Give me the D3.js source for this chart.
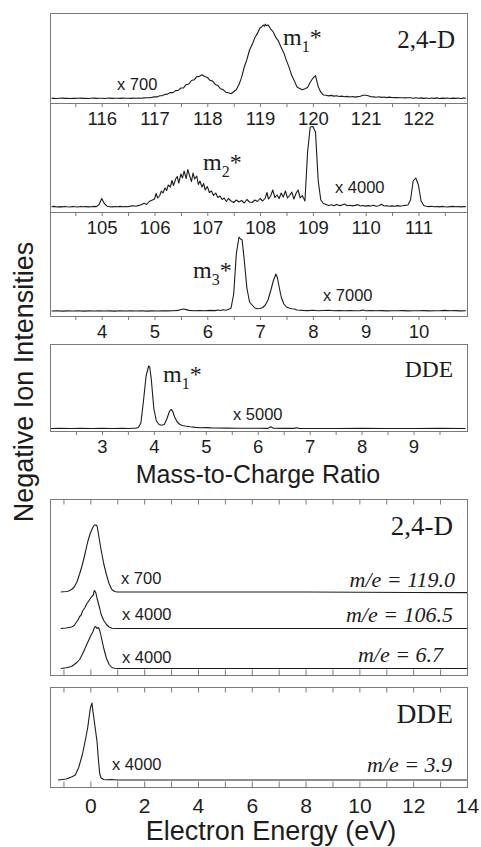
<!DOCTYPE html>
<html><head><meta charset="utf-8">
<script src="https://cdn.jsdelivr.net/npm/d3@7"></script>
<style>body{margin:0;background:#fff}svg{display:block}</style>
</head><body>
<svg id="c" width="481" height="847"></svg>
<script>
// ---------------- DATA ----------------
const massTicks1 = [116,117,118,119,120,121,122];
const massMinor1 = [115.5,116.5,117.5,118.5,119.5,120.5,121.5,122.5];
const massTicks2 = [105,106,107,108,109,110,111];
const massMinor2 = [104.5,105.5,106.5,107.5,108.5,109.5,110.5,111.5];
const massTicks3 = [4,5,6,7,8,9,10];
const massMinor3 = [3.5,4.5,5.5,6.5,7.5,8.5,9.5,10.5];
const massTicksDDE = [3,4,5,6,7,8,9];
const massMinorDDE = [2.5,3.5,4.5,5.5,6.5,7.5,8.5,9.5];
const energyTicks = [0,2,4,6,8,10,12,14];
const energyMinor = [-1,0,1,2,3,4,5,6,7,8,9,10,11,12,13,14];

// 2,4-D mass spectrum, m/e 115-123 (x 700)
const spec1 = [[115.05,4.6],[115.1,4.8],[115.15,4.5],[115.2,4.7],[115.25,4.9],[115.3,4.6],[115.35,4.7],[115.4,4.5],[115.45,4.8],[115.5,4.6],[115.55,4.7],[115.6,4.9],[115.65,4.6],[115.7,4.8],[115.75,4.5],[115.8,4.7],[115.85,4.9],[115.9,4.6],[115.95,4.8],[116.0,4.7],[116.05,4.5],[116.1,4.8],[116.15,4.9],[116.2,4.6],[116.25,4.7],[116.3,4.8],[116.35,4.6],[116.4,4.9],[116.45,4.7],[116.5,4.8],[116.55,4.6],[116.6,4.9],[116.65,4.7],[116.7,5.0],[116.75,4.8],[116.8,5.1],[116.85,5.3],[116.9,5.2],[116.95,5.6],[117.0,6.2],[117.05,6.1],[117.1,7.3],[117.15,7.4],[117.2,8.6],[117.25,8.9],[117.3,10.5],[117.35,10.4],[117.4,12.4],[117.45,12.6],[117.5,15.0],[117.55,15.1],[117.6,18.3],[117.65,19.0],[117.7,22.5],[117.75,23.2],[117.8,26.4],[117.85,26.6],[117.9,28.3],[117.95,26.5],[118.0,25.6],[118.05,22.7],[118.1,21.9],[118.15,18.6],[118.2,17.6],[118.25,14.2],[118.3,13.4],[118.35,10.8],[118.4,10.3],[118.45,9.2],[118.5,11.3],[118.55,13.2],[118.6,18.4],[118.65,25.6],[118.7,36.0],[118.75,43.5],[118.8,53.0],[118.85,58.4],[118.9,65.2],[118.95,69.6],[119.0,75.2],[119.03,76.0],[119.06,78.0],[119.08,76.8],[119.1,78.8],[119.12,77.2],[119.15,78.1],[119.2,74.2],[119.25,71.0],[119.3,65.4],[119.35,61.8],[119.4,55.4],[119.45,50.1],[119.5,42.4],[119.55,35.6],[119.6,27.4],[119.65,22.1],[119.7,16.0],[119.75,14.6],[119.8,13.2],[119.85,14.3],[119.9,15.5],[119.95,20.8],[120.0,24.7],[120.05,27.3],[120.1,16.6],[120.15,10.8],[120.2,8.0],[120.25,7.8],[120.3,7.1],[120.35,7.6],[120.4,6.9],[120.45,7.3],[120.5,6.5],[120.55,6.9],[120.6,6.2],[120.65,6.6],[120.7,6.0],[120.75,6.5],[120.8,5.9],[120.85,6.4],[120.9,6.8],[120.95,7.7],[121.0,7.7],[121.05,7.3],[121.1,6.3],[121.15,6.1],[121.2,5.7],[121.25,6.2],[121.3,5.6],[121.35,6.0],[121.4,5.4],[121.45,5.9],[121.5,5.5],[121.55,5.4],[121.6,5.5],[121.65,5.3],[121.7,5.3],[121.75,5.1],[121.8,5.2],[121.85,5.2],[121.9,4.8],[121.95,5.3],[122.0,4.7],[122.05,5.1],[122.1,4.6],[122.15,5.0],[122.2,4.5],[122.25,5.0],[122.3,4.6],[122.35,5.1],[122.4,4.5],[122.45,4.9],[122.5,4.6],[122.55,5.0],[122.6,4.5],[122.65,4.9],[122.7,4.6],[122.75,5.0],[122.8,4.5],[122.85,4.9],[122.9,4.7]];

// 2,4-D mass spectrum, m/e 104-112 (x 4000)
const spec2 = [[104.05,5.2],[104.1,5.6],[104.15,5.0],[104.2,5.4],[104.25,5.1],[104.3,5.5],[104.35,5.2],[104.4,5.0],[104.45,5.4],[104.5,5.3],[104.55,5.0],[104.6,5.5],[104.65,5.2],[104.7,5.4],[104.75,5.1],[104.8,5.3],[104.85,5.6],[104.9,5.4],[104.95,7.5],[105.0,13.5],[105.05,8.5],[105.1,5.8],[105.15,5.4],[105.2,5.1],[105.25,5.5],[105.3,5.3],[105.35,5.6],[105.4,5.2],[105.45,5.5],[105.5,5.3],[105.55,5.9],[105.6,6.2],[105.65,5.8],[105.7,6.6],[105.75,7.2],[105.8,8.8],[105.85,7.6],[105.9,10.5],[105.95,11.8],[106.0,13.0],[106.03,18.5],[106.06,14.0],[106.1,16.5],[106.13,21.0],[106.16,19.0],[106.2,24.0],[106.23,21.5],[106.26,27.0],[106.3,25.0],[106.33,31.5],[106.36,26.5],[106.4,33.0],[106.43,35.5],[106.46,29.0],[106.5,38.0],[106.53,34.0],[106.56,41.0],[106.6,33.5],[106.63,42.5],[106.66,37.0],[106.7,30.5],[106.73,39.0],[106.76,33.0],[106.8,36.0],[106.83,27.5],[106.86,31.0],[106.9,25.0],[106.93,28.5],[106.96,22.0],[107.0,25.5],[107.04,19.5],[107.08,21.0],[107.12,16.5],[107.16,19.0],[107.2,14.5],[107.24,16.0],[107.28,12.5],[107.32,14.0],[107.36,10.5],[107.4,13.5],[107.45,11.0],[107.5,9.5],[107.55,12.0],[107.6,10.0],[107.65,11.5],[107.7,9.0],[107.75,12.5],[107.8,10.0],[107.85,9.5],[107.9,12.0],[107.95,10.5],[108.0,13.5],[108.05,11.0],[108.1,14.0],[108.13,19.5],[108.16,13.0],[108.2,16.0],[108.24,22.0],[108.28,14.5],[108.32,17.0],[108.36,13.5],[108.4,19.0],[108.44,15.0],[108.48,21.0],[108.52,14.0],[108.56,16.5],[108.6,20.0],[108.64,13.0],[108.68,18.5],[108.72,22.0],[108.76,14.0],[108.8,16.5],[108.85,11.0],[108.9,60.0],[108.95,85.0],[109.0,85.5],[109.05,80.0],[109.1,32.0],[109.15,12.0],[109.2,8.5],[109.25,7.5],[109.3,6.5],[109.35,7.2],[109.4,6.2],[109.45,7.6],[109.5,6.4],[109.55,6.9],[109.6,8.0],[109.65,6.3],[109.7,6.8],[109.75,6.1],[109.8,6.6],[109.85,7.4],[109.9,6.0],[109.95,6.5],[110.0,5.9],[110.05,6.4],[110.1,6.0],[110.15,6.7],[110.2,5.8],[110.25,6.2],[110.3,7.8],[110.35,6.0],[110.4,6.3],[110.45,5.7],[110.5,6.1],[110.55,5.8],[110.6,6.4],[110.65,5.9],[110.7,6.2],[110.75,6.6],[110.8,7.0],[110.85,12.0],[110.9,31.0],[110.95,34.0],[111.0,27.0],[111.05,11.0],[111.1,6.5],[111.15,5.8],[111.2,5.4],[111.25,5.7],[111.3,5.2],[111.35,5.5],[111.4,5.1],[111.45,5.6],[111.5,5.3],[111.55,5.0],[111.6,5.4],[111.65,5.6],[111.7,5.2],[111.75,5.5],[111.8,5.1],[111.85,5.4],[111.9,5.2]];

// 2,4-D mass spectrum, m/e 3-11 (x 7000)
const spec3 = [[3.05,5.0],[3.15,5.2],[3.25,4.9],[3.35,5.1],[3.45,5.0],[3.55,5.2],[3.65,4.9],[3.75,5.1],[3.85,5.0],[3.95,5.2],[4.05,5.0],[4.15,5.1],[4.25,4.9],[4.35,5.2],[4.45,5.0],[4.55,5.1],[4.65,5.0],[4.75,5.2],[4.85,4.9],[4.95,5.1],[5.05,5.0],[5.15,5.3],[5.25,5.1],[5.35,5.2],[5.45,5.6],[5.5,6.5],[5.55,7.0],[5.6,6.4],[5.65,5.6],[5.75,5.3],[5.85,5.5],[5.95,5.2],[6.05,5.6],[6.15,5.4],[6.2,6.0],[6.25,5.5],[6.3,6.2],[6.35,5.8],[6.4,6.5],[6.45,8.0],[6.5,22.0],[6.55,62.0],[6.6,79.0],[6.63,77.0],[6.66,76.0],[6.7,56.0],[6.75,28.0],[6.8,14.0],[6.85,11.0],[6.9,8.0],[6.95,7.2],[7.0,7.5],[7.05,8.5],[7.1,11.0],[7.15,16.0],[7.2,25.0],[7.25,35.0],[7.3,42.0],[7.33,38.0],[7.35,32.0],[7.4,19.0],[7.45,12.0],[7.5,9.0],[7.55,8.0],[7.6,7.2],[7.65,7.0],[7.7,6.0],[7.8,5.6],[7.9,5.4],[8.0,5.7],[8.1,5.3],[8.2,5.5],[8.3,5.8],[8.4,5.2],[8.5,5.4],[8.6,5.3],[8.7,5.5],[8.8,5.2],[8.9,5.4],[8.95,6.0],[9.0,5.3],[9.1,5.5],[9.2,5.2],[9.3,5.4],[9.4,5.1],[9.5,5.3],[9.6,5.2],[9.7,5.4],[9.8,5.1],[9.9,5.3],[10.0,5.2],[10.1,5.4],[10.2,5.1],[10.3,5.3],[10.4,5.2],[10.5,5.6],[10.6,5.2],[10.7,5.4],[10.8,5.1],[10.9,5.3]];

// DDE mass spectrum, m/e 2-10 (x 5000)
const specDDE = [[2.02,2.5],[2.2,2.6],[2.4,2.5],[2.6,2.6],[2.8,2.5],[3.0,2.6],[3.2,2.5],[3.4,2.6],[3.5,2.5],[3.6,2.7],[3.65,2.8],[3.7,3.5],[3.75,8.0],[3.8,30.0],[3.85,55.0],[3.9,65.0],[3.92,64.0],[3.95,52.0],[4.0,22.0],[4.05,10.0],[4.1,6.5],[4.15,5.8],[4.2,6.5],[4.25,12.0],[4.3,19.5],[4.33,21.5],[4.36,20.0],[4.4,14.0],[4.45,9.0],[4.5,6.5],[4.55,5.5],[4.6,5.0],[4.7,4.2],[4.8,3.6],[4.9,3.3],[5.0,3.4],[5.1,3.1],[5.2,3.0],[5.4,2.9],[5.6,2.8],[5.8,2.7],[6.0,2.7],[6.2,2.6],[6.25,4.2],[6.3,2.7],[6.5,2.6],[6.7,2.6],[6.75,3.2],[6.8,2.6],[7.0,2.5],[7.5,2.5],[8.0,2.6],[8.5,2.5],[9.0,2.5],[9.5,2.6],[10.0,2.5]];

// Ion yield vs electron energy (eV)
const e119 = [[-1.1,0],[-0.9,0.5],[-0.8,1],[-0.7,2.5],[-0.6,5],[-0.5,10],[-0.4,18],[-0.3,27],[-0.2,38],[-0.1,50],[0,59],[0.1,65],[0.15,67],[0.2,67],[0.25,66],[0.3,58],[0.4,42],[0.5,28],[0.6,17],[0.7,8],[0.8,2.5],[0.9,0.5],[1.0,0],[2,0],[4,0],[6,0],[8,0],[10,-0.3],[12,-0.5],[14,-0.6]];
const e1065 = [[-1.1,0],[-0.9,0.5],[-0.7,1.5],[-0.6,3],[-0.5,7],[-0.45,9],[-0.4,12],[-0.35,13],[-0.3,17],[-0.25,19],[-0.2,21],[-0.15,24],[-0.1,26],[-0.05,28],[0,30],[0.05,32],[0.1,33],[0.15,38],[0.2,36],[0.25,30],[0.3,25],[0.35,20],[0.4,14],[0.5,8],[0.6,4],[0.7,1.5],[0.8,0.3],[1.0,0],[4,0],[8,0],[14,0]];
const e67 = [[-1.1,0],[-0.9,0.8],[-0.7,2],[-0.6,4],[-0.5,6],[-0.4,9],[-0.3,14],[-0.2,20],[-0.1,26],[0,32],[0.1,37],[0.15,41],[0.2,42],[0.25,40],[0.3,41],[0.35,38],[0.4,32],[0.5,20],[0.6,10],[0.7,4],[0.8,1],[0.9,0.3],[1.0,0],[4,0],[8,0],[14,0]];
const eDDE = [[-1.2,0],[-0.9,1],[-0.7,3],[-0.56,5],[-0.44,12],[-0.3,25],[-0.2,38],[-0.1,52],[0,72],[0.06,77],[0.1,68],[0.15,58],[0.2,48],[0.25,38],[0.3,20],[0.35,6],[0.4,2],[0.5,0.5],[0.6,0.3],[0.8,0.5],[1.0,0],[4,0],[8,0],[14,0]];

const massFactors = ["x 700","x 4000","x 7000","x 5000"];
const energyFactors = ["x 700","x 4000","x 4000","x 4000"];
const meLabels = ["m/e = 119.0","m/e = 106.5","m/e = 6.7","m/e = 3.9"];
const molecules = ["2,4-D","DDE"];
const fragSubs = ["1","2","3","1"];

// ---------------- DRAWING ----------------
const svg = d3.select('#c');
const L = 50, R = 467;
const FRAME = '#7a7a7a', INK = '#1c1c1c';
const SANS = "'Liberation Sans', Arial, sans-serif";
const SERIF = "'Liberation Serif', 'Times New Roman', serif";
const line = (x, y, off=0) => d3.line().x(d => x(d[0])).y(d => y(d[1] + off));

function styleAxis(g, fs){
  g.attr('font-family', SANS).attr('font-size', fs);
  g.select('.domain').attr('stroke', FRAME);
  g.selectAll('.tick line').attr('stroke', FRAME);
  g.selectAll('.tick text').attr('fill', INK);
}

// frames
const frames = [[13,316],[344,431],[499,675],[687,787]];
frames.forEach(f => svg.append('rect').attr('x', L+0.5).attr('y', f[0]+0.5)
  .attr('width', R-L).attr('height', f[1]-f[0]).attr('fill','none').attr('stroke', FRAME).attr('stroke-width',1));

// mass panels
const massPanels = [
  {data: spec1, dom:[115.02,122.92], axisY:103, topY:13, major:massTicks1, minor:massMinor1},
  {data: spec2, dom:[104.02,111.92], axisY:212, topY:103, major:massTicks2, minor:massMinor2},
  {data: spec3, dom:[3.02,10.92], axisY:316, topY:212, major:massTicks3, minor:massMinor3},
  {data: specDDE, dom:[2.0,10.03], axisY:431, topY:344, major:massTicksDDE, minor:massMinorDDE}
];
massPanels.forEach(p => {
  const x = d3.scaleLinear().domain(p.dom).range([L, R]);
  const y = d3.scaleLinear().domain([0, p.axisY - p.topY]).range([p.axisY, p.topY]);
  const gm = svg.append('g').attr('transform', `translate(0,${p.axisY})`)
    .call(d3.axisBottom(x).tickValues(p.minor).tickSize(4).tickSizeOuter(0).tickFormat(''));
  styleAxis(gm, 18.5);
  const ga = svg.append('g').attr('transform', `translate(0,${p.axisY})`)
    .call(d3.axisBottom(x).tickValues(p.major).tickSize(4).tickSizeOuter(0).tickPadding(5).tickFormat(d3.format('d')));
  styleAxis(ga, 18.5);
  svg.append('path').datum(p.data).attr('d', line(x, y)).attr('fill','none')
    .attr('stroke', INK).attr('stroke-width', 1.1).attr('stroke-linejoin','round');
});

// energy panels
const xE = d3.scaleLinear().domain([-1.5, 14]).range([L, R]);
const energyPanels = [
  {top:499, bottom:675, traces:[[e119,83],[e1065,46.5],[e67,6.5]], labels:false},
  {top:687, bottom:787, traces:[[eDDE,7]], labels:true}
];
energyPanels.forEach(p => {
  const y = d3.scaleLinear().domain([0, p.bottom - p.top]).range([p.bottom, p.top]);
  const gt = svg.append('g').attr('transform', `translate(0,${p.top})`)
    .call(d3.axisTop(xE).tickValues(energyMinor).tickSizeInner(-5.5).tickSizeOuter(0).tickFormat(''));
  styleAxis(gt, 21);
  const gb = svg.append('g').attr('transform', `translate(0,${p.bottom})`)
    .call(d3.axisBottom(xE).tickValues(energyMinor).tickSizeInner(-5.5).tickSizeOuter(0).tickPadding(11.5)
      .tickFormat(d => (p.labels && energyTicks.includes(d)) ? d : ''));
  styleAxis(gb, 21);
  p.traces.forEach(t => svg.append('path').datum(t[0]).attr('d', line(xE, y, t[1]))
    .attr('fill','none').attr('stroke', INK).attr('stroke-width', 1.1).attr('stroke-linejoin','round'));
});

// text helpers
function txt(s, x, y, o){
  return svg.append('text').attr('x', x).attr('y', y).text(s)
    .attr('font-family', o.ff || SANS).attr('font-size', o.fs).attr('fill', INK)
    .attr('text-anchor', o.anchor || 'start').attr('font-style', o.it ? 'italic' : 'normal');
}
// molecule names
txt(molecules[0], 455, 48, {ff:SERIF, fs:25, anchor:'end'});
txt(molecules[1], 453, 377, {ff:SERIF, fs:23.5, anchor:'end'});
txt(molecules[0], 453, 535, {ff:SERIF, fs:27, anchor:'end'});
txt(molecules[1], 453, 723, {ff:SERIF, fs:27.5, anchor:'end'});

// fragment labels m_n*
const fragPos = [[283,45],[203,170],[193,278],[163,381.5]];
fragPos.forEach((p, i) => {
  const t = svg.append('text').attr('x', p[0]).attr('y', p[1]).attr('font-family', SERIF)
    .attr('font-size', 24).attr('fill', INK);
  t.append('tspan').text('m');
  t.append('tspan').attr('font-size', 16).attr('dy', 7).text(fragSubs[i]);
  t.append('tspan').attr('dy', -7).text('*');
});

// multiplication factors
const massFacPos = [[117,90],[335,193],[323,300.5],[233,420]];
massFacPos.forEach((p, i) => txt(massFactors[i], p[0], p[1], {fs:16.5}));
const enFacPos = [[121,584],[122,620],[122,663],[112,770]];
enFacPos.forEach((p, i) => txt(energyFactors[i], p[0], p[1], {fs:16.5}));

// m/e labels
const mePos = [[455,587],[453,622],[443,662],[452,771.5]];
mePos.forEach((p, i) => txt(meLabels[i], p[0], p[1], {ff:SERIF, fs:22, anchor:'end', it:true}));

// axis titles
txt('Mass-to-Charge Ratio', 258, 482.5, {fs:25, anchor:'middle'});
txt('Electron Energy (eV)', 271, 840, {fs:27, anchor:'middle'});
svg.append('text').attr('transform', 'translate(33,382) rotate(-90)').attr('text-anchor','middle')
  .attr('font-family', SANS).attr('font-size', 27).attr('fill', INK).text('Negative Ion Intensities');
</script>
</body></html>
